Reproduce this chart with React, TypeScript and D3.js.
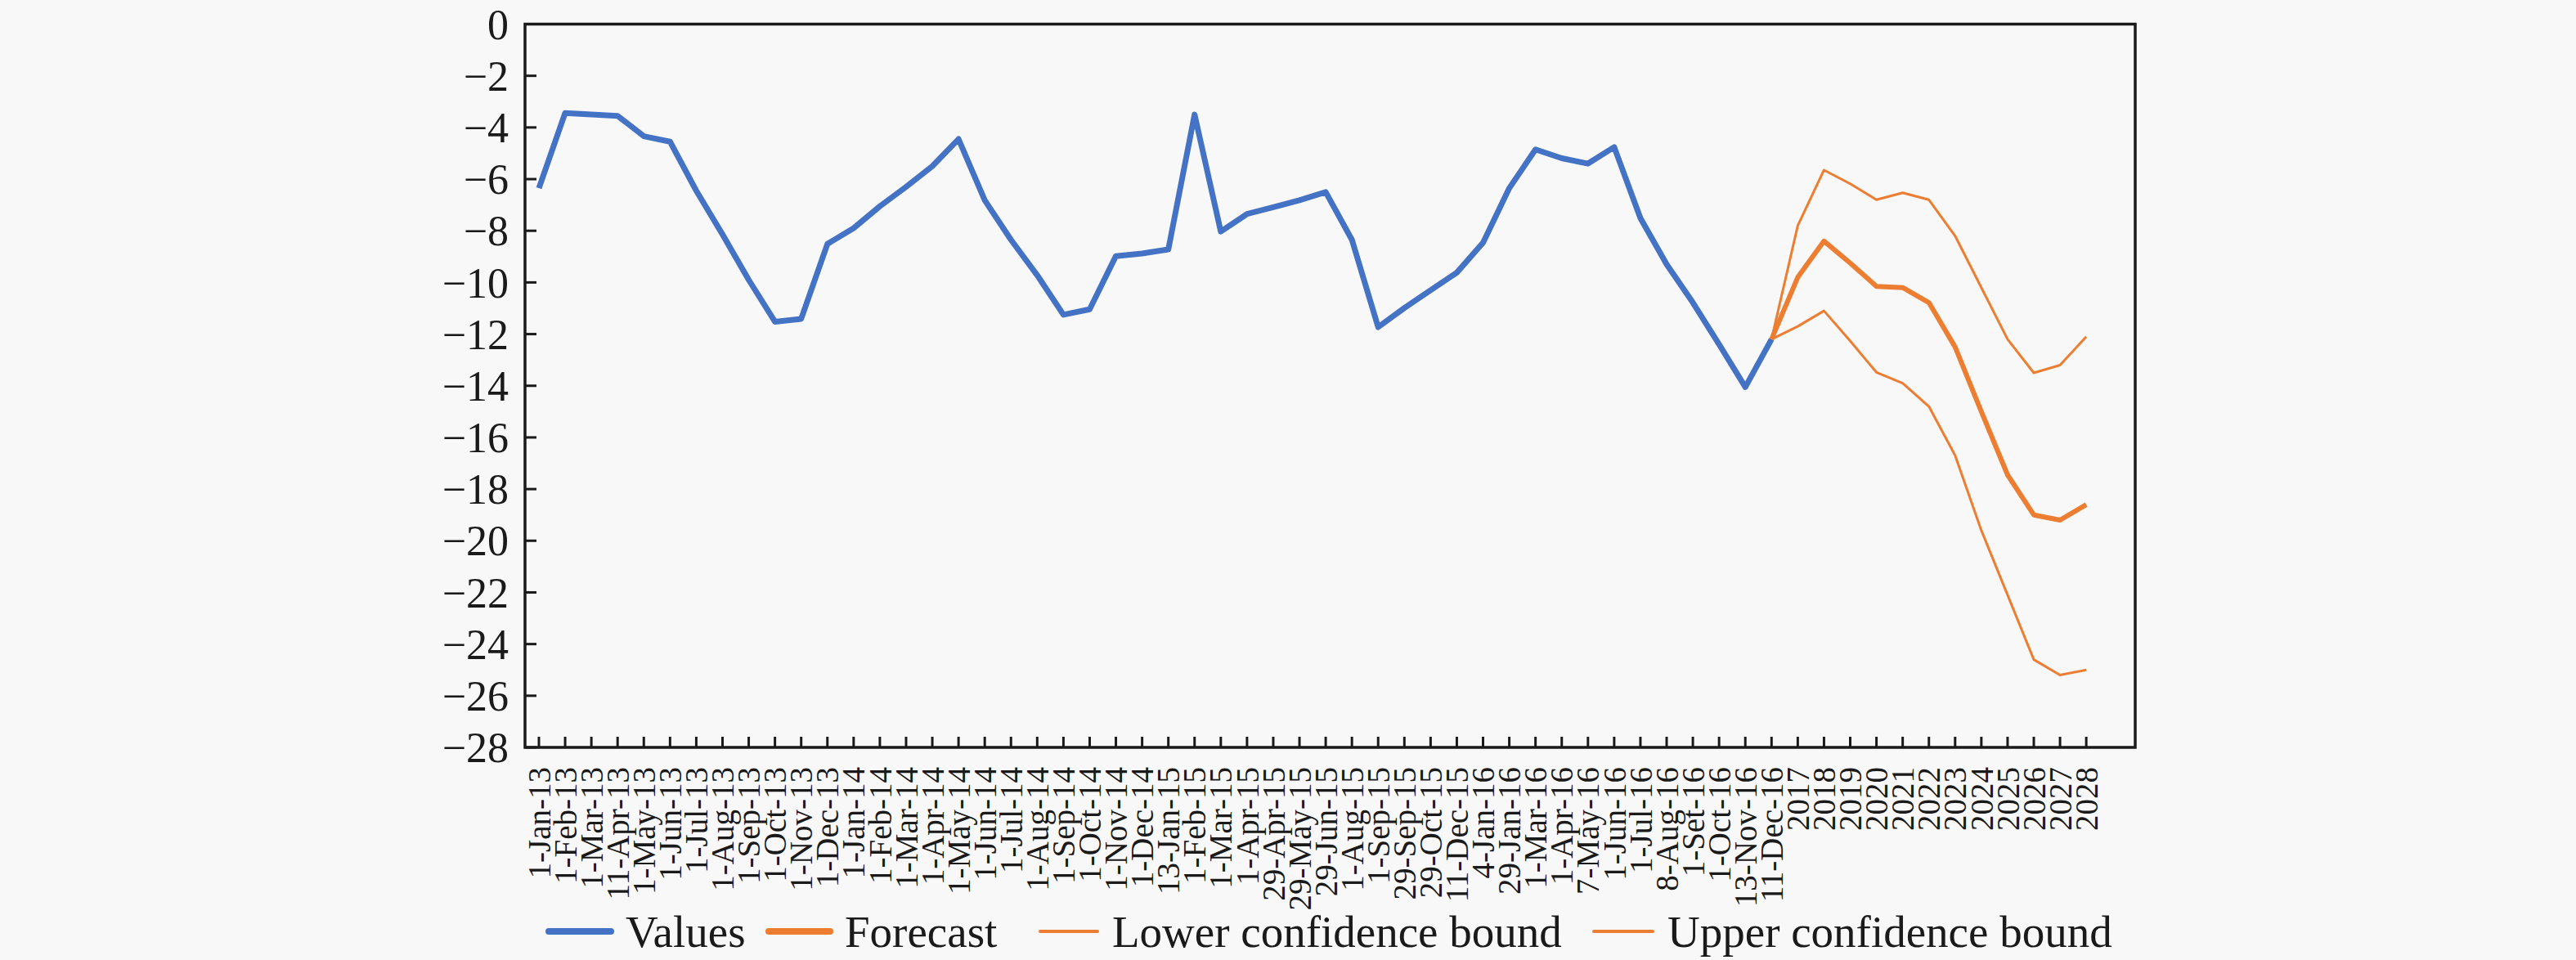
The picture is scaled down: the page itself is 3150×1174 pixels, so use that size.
import React from "react";
import * as d3 from "d3";

const categories: string[] = [
  "1-Jan-13", "1-Feb-13", "1-Mar-13", "11-Apr-13", "1-May-13", "1-Jun-13", "1-Jul-13", "1-Aug-13",
  "1-Sep-13", "1-Oct-13", "1-Nov-13", "1-Dec-13", "1-Jan-14", "1-Feb-14", "1-Mar-14", "1-Apr-14",
  "1-May-14", "1-Jun-14", "1-Jul-14", "1-Aug-14", "1-Sep-14", "1-Oct-14", "1-Nov-14", "1-Dec-14",
  "13-Jan-15", "1-Feb-15", "1-Mar-15", "1-Apr-15", "29-Apr-15", "29-May-15", "29-Jun-15", "1-Aug-15",
  "1-Sep-15", "29-Sep-15", "29-Oct-15", "11-Dec-15", "4-Jan-16", "29-Jan-16", "1-Mar-16", "1-Apr-16",
  "7-May-16", "1-Jun-16", "1-Jul-16", "8-Aug-16", "1-Set-16", "1-Oct-16", "13-Nov-16", "11-Dec-16",
  "2017", "2018", "2019", "2020", "2021", "2022", "2023", "2024", "2025", "2026", "2027", "2028",
];

// Observed values: 1-Jan-13 .. 11-Dec-16
const values: number[] = [
  -6.35, -3.44, -3.5, -3.55, -4.34, -4.55, -6.45, -8.14, -9.9, -11.52, -11.41, -8.51,
  -7.9, -7.05, -6.3, -5.5, -4.45, -6.82, -8.35, -9.72, -11.25, -11.04, -8.98, -8.88,
  -8.72, -3.5, -8.03, -7.35, -7.09, -6.82, -6.5, -8.35, -11.73, -10.99, -10.3, -9.62,
  -8.46, -6.35, -4.85, -5.19, -5.4, -4.76, -7.51, -9.3, -10.78, -12.4, -14.05, -12.2,
];

// Forecast series: 11-Dec-16 .. 2028
const forecastStart = "11-Dec-16";
const forecast: number[] = [-12.2, -9.8, -8.4, -9.25, -10.15, -10.2, -10.78, -12.5, -15.0, -17.45, -19.0, -19.2, -18.6];
const lowerBound: number[] = [-12.2, -11.7, -11.1, -12.27, -13.48, -13.9, -14.8, -16.7, -19.6, -22.1, -24.6, -25.2, -25.0];
const upperBound: number[] = [-12.2, -7.8, -5.65, -6.18, -6.8, -6.53, -6.8, -8.2, -10.2, -12.2, -13.5, -13.2, -12.1];

const yTicks: number[] = [0, -2, -4, -6, -8, -10, -12, -14, -16, -18, -20, -22, -24, -26, -28];

const legendItems: string[] = ["Values", "Forecast", "Lower confidence bound", "Upper confidence bound"];

const W = 3150;
const H = 1174;
const plot = { left: 642, right: 2611, top: 29.5, bottom: 914 };
const BLUE = "#4472C4";
const ORANGE = "#ED7D31";
const FONT = "'Liberation Serif', 'Times New Roman', serif";

export default function App() {
  const step = 32.07;
  const x = d3
    .scalePoint<string>()
    .domain(categories)
    .range([plot.left + 17, plot.left + 17 + step * (categories.length - 1)]);
  const y = d3.scaleLinear().domain([-28, 0]).range([plot.bottom, plot.top]);

  const line = d3
    .line<{ c: string; v: number }>()
    .x((d) => x(d.c) as number)
    .y((d) => y(d.v));

  const startIdx = categories.indexOf(forecastStart);
  const toSeries = (arr: number[], offset: number) =>
    arr.map((v, i) => ({ c: categories[offset + i], v }));

  const valuesPath = line(toSeries(values, 0)) || "";
  const forecastPath = line(toSeries(forecast, startIdx)) || "";
  const lowerPath = line(toSeries(lowerBound, startIdx)) || "";
  const upperPath = line(toSeries(upperBound, startIdx)) || "";

  const legendX = [671, 940, 1272, 1949];
  const legendSwatch = [
    { color: BLUE, w: 8, len: 76 },
    { color: ORANGE, w: 8, len: 75 },
    { color: ORANGE, w: 4, len: 70 },
    { color: ORANGE, w: 4, len: 72 },
  ];
  const legendY = 1139;

  return (
    <svg
      width={W}
      height={H}
      style={{ position: "absolute", left: 0, top: 0, background: "#f8f8f8" }}
      fontFamily={FONT}
    >
      <rect x={0} y={0} width={W} height={H} fill="#f8f8f8" />

      {/* series */}
      <path d={valuesPath} fill="none" stroke={BLUE} strokeWidth={7} strokeLinejoin="round" />
      <path d={forecastPath} fill="none" stroke={ORANGE} strokeWidth={6} strokeLinejoin="round" />
      <path d={lowerPath} fill="none" stroke={ORANGE} strokeWidth={3} strokeLinejoin="round" />
      <path d={upperPath} fill="none" stroke={ORANGE} strokeWidth={3} strokeLinejoin="round" />

      {/* frame */}
      <rect
        x={plot.left}
        y={plot.top}
        width={plot.right - plot.left}
        height={plot.bottom - plot.top}
        fill="none"
        stroke="#1a1a1a"
        strokeWidth={3.5}
      />

      {/* y axis ticks & labels */}
      {yTicks.map((t) => (
        <g key={t}>
          <line x1={plot.left} x2={plot.left + 14} y1={y(t)} y2={y(t)} stroke="#1a1a1a" strokeWidth={3} />
          <text
            x={622}
            y={y(t)}
            dy="0.35em"
            textAnchor="end"
            fontSize={52}
            fill="#1a1a1a"
          >
            {t === 0 ? "0" : "\u2212" + Math.abs(t)}
          </text>
        </g>
      ))}

      {/* x axis ticks & labels */}
      {categories.map((c) => {
        const cx = x(c) as number;
        return (
          <g key={c}>
            <line x1={cx} x2={cx} y1={plot.bottom} y2={plot.bottom - 13} stroke="#1a1a1a" strokeWidth={3} />
            <text
              transform={`translate(${cx},938) rotate(-90)`}
              dy="0.35em"
              textAnchor="end"
              fontSize={39}
              fill="#1a1a1a"
            >
              {c}
            </text>
          </g>
        );
      })}

      {/* legend */}
      {legendItems.map((name, i) => {
        const sx = legendX[i];
        const sw = legendSwatch[i];
        return (
          <g key={name}>
            <line
              x1={sx}
              x2={sx + sw.len}
              y1={legendY}
              y2={legendY}
              stroke={sw.color}
              strokeWidth={sw.w}
              strokeLinecap="round"
            />
            <text x={sx + sw.len + 18} y={legendY} dy="0.35em" fontSize={55} fill="#1a1a1a">
              {name}
            </text>
          </g>
        );
      })}
    </svg>
  );
}
